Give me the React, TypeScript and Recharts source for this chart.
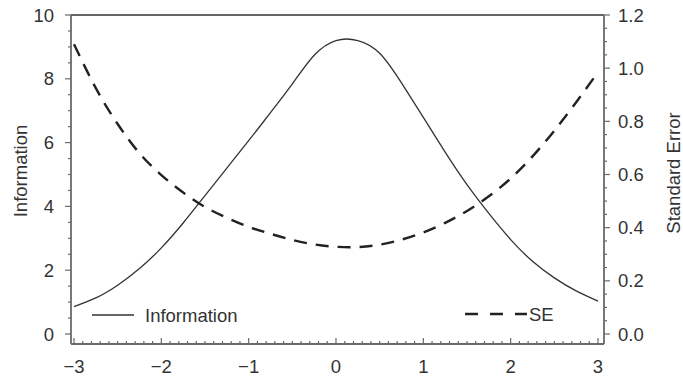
import { LineChart, Line, XAxis, YAxis, ReferenceLine, Customized } from "recharts";

// theta grid and the two curves
const theta = [
  -3, -2.75, -2.5, -2.25, -2, -1.75, -1.5, -1.25, -1, -0.75, -0.5, -0.25, 0,
  0.25, 0.5, 0.75, 1, 1.25, 1.5, 1.75, 2, 2.25, 2.5, 2.75, 3,
];
const information = [
  0.86, 1.13, 1.53, 2.05, 2.7, 3.48, 4.34, 5.2, 6.06, 6.94, 7.84, 8.74, 9.2,
  9.2, 8.8, 7.87, 6.79, 5.7, 4.68, 3.78, 2.96, 2.28, 1.76, 1.35, 1.03,
];
const standardError = [
  1.09, 0.925, 0.79, 0.68, 0.598, 0.532, 0.478, 0.437, 0.403, 0.377, 0.354,
  0.337, 0.328, 0.327, 0.336, 0.355, 0.382, 0.418, 0.463, 0.518, 0.585, 0.668,
  0.765, 0.872, 0.985,
];

const xMajorTicks = [-3, -2, -1, 0, 1, 2, 3];
const xTickLabels = ["\u22123", "\u22122", "\u22121", "0", "1", "2", "3"];
const leftMajorTicks = [0, 2, 4, 6, 8, 10];
const leftTickLabels = ["0", "2", "4", "6", "8", "10"];
const rightMajorTicks = [0, 0.2, 0.4, 0.6, 0.8, 1.0, 1.2];
const rightTickLabels = ["0.0", "0.2", "0.4", "0.6", "0.8", "1.0", "1.2"];

const data = theta.map((t, i) => ({
  theta: t,
  info: information[i],
  se: standardError[i],
}));

// minor tick positions (axis decoration only)
const steps = (from: number, to: number, step: number) => {
  const out: number[] = [];
  const n = Math.round((to - from) / step);
  for (let i = 0; i <= n; i++) out.push(Math.round((from + i * step) * 1e6) / 1e6);
  return out;
};
const xTicks = steps(-3, 3, 0.1);
const leftTicks = steps(0, 10, 0.5);
const rightTicks = steps(0, 1.2, 0.05);

const FONT = "'Liberation Sans', Arial, sans-serif";
const FS = 18.5;
const AXIS = "#6a6a6a";
const TEXT = "#333";

const majorIndex = (majors: number[], v: number) =>
  majors.findIndex((m) => Math.abs(m - v) < 1e-6);

const XTick = ({ x, y, payload }: any) => {
  const idx = majorIndex(xMajorTicks, payload.value);
  const len = idx >= 0 ? 6 : 3;
  return (
    <g>
      <line x1={x} x2={x} y1={y} y2={y - len} stroke={AXIS} strokeWidth={1.2} />
      {idx >= 0 && (
        <text x={x} y={y + 29} textAnchor="middle" fontSize={FS} fontFamily={FONT} fill={TEXT}>
          {xTickLabels[idx]}
        </text>
      )}
    </g>
  );
};

const LeftTick = ({ x, y, payload }: any) => {
  const idx = majorIndex(leftMajorTicks, payload.value);
  const len = idx >= 0 ? 6 : 3;
  return (
    <g>
      <line x1={x} x2={x - len} y1={y} y2={y} stroke={AXIS} strokeWidth={1.2} />
      {idx >= 0 && (
        <text x={x - 17} y={y} dy="0.36em" textAnchor="end" fontSize={FS} fontFamily={FONT} fill={TEXT}>
          {leftTickLabels[idx]}
        </text>
      )}
    </g>
  );
};

const RightTick = ({ x, y, payload }: any) => {
  const idx = majorIndex(rightMajorTicks, payload.value);
  const len = idx >= 0 ? 6 : 3;
  return (
    <g>
      <line x1={x} x2={x + len} y1={y} y2={y} stroke={AXIS} strokeWidth={1.2} />
      {idx >= 0 && (
        <text x={x + 14} y={y} dy="0.36em" textAnchor="start" fontSize={FS} fontFamily={FONT} fill={TEXT}>
          {rightTickLabels[idx]}
        </text>
      )}
    </g>
  );
};

// axis titles and in-plot legend
const Decorations = () => (
  <g fontFamily={FONT} fill={TEXT} fontSize={FS}>
    <text x={21} y={171} transform="rotate(-90 21 171)" textAnchor="middle" dy="0.35em">
      Information
    </text>
    <text x={674} y={173} transform="rotate(-90 674 173)" textAnchor="middle" dy="0.35em">
      Standard Error
    </text>
    <line x1={92} x2={134} y1={315} y2={315} stroke="#333" strokeWidth={1.3} />
    <text x={145} y={315} dy="0.36em">Information</text>
    <line x1={465} x2={527} y1={314} y2={314} stroke="#222" strokeWidth={2.4} strokeDasharray="13 12" />
    <text x={529} y={314} dy="0.36em">SE</text>
  </g>
);

export default function App() {
  return (
    <div style={{ position: "absolute", left: 0, top: 0, background: "#fff" }}>
      <LineChart width={683} height={378} data={data} margin={{ top: 15, right: 0, bottom: 0, left: 0 }}>
        <XAxis
          dataKey="theta"
          type="number"
          domain={[-3, 3]}
          ticks={xTicks}
          interval={0}
          tickSize={0}
          tickMargin={0}
          tickLine={false}
          tick={<XTick />}
          axisLine={{ stroke: AXIS, strokeWidth: 1.8 }}
          padding={{ left: 3, right: 6 }}
          height={34}
        />
        <YAxis
          yAxisId="left"
          domain={[0, 10]}
          ticks={leftTicks}
          interval={0}
          tickSize={0}
          tickMargin={0}
          tickLine={false}
          tick={<LeftTick />}
          axisLine={{ stroke: AXIS, strokeWidth: 1.8 }}
          padding={{ top: 0, bottom: 10 }}
          width={71}
        />
        <YAxis
          yAxisId="right"
          orientation="right"
          domain={[0, 1.2]}
          ticks={rightTicks}
          interval={0}
          tickSize={0}
          tickMargin={0}
          tickLine={false}
          tick={<RightTick />}
          axisLine={{ stroke: AXIS, strokeWidth: 1.8 }}
          padding={{ top: 0, bottom: 10 }}
          width={79}
        />
        <ReferenceLine yAxisId="left" y={10} stroke="#333" strokeWidth={1.3} />
        <Line
          yAxisId="left"
          type="natural"
          dataKey="info"
          stroke="#333"
          strokeWidth={1.3}
          dot={false}
          isAnimationActive={false}
        />
        <Line
          yAxisId="right"
          type="natural"
          dataKey="se"
          stroke="#222"
          strokeWidth={2.4}
          strokeDasharray="13 9"
          dot={false}
          isAnimationActive={false}
        />
        <Customized component={Decorations} />
      </LineChart>
    </div>
  );
}
